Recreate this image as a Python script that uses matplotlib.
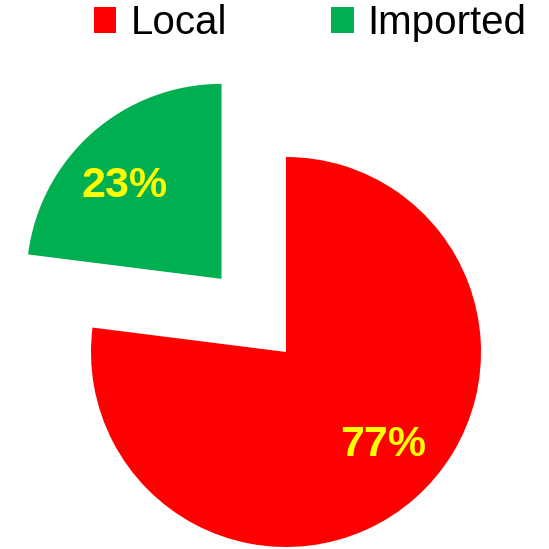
import matplotlib
matplotlib.use("Agg")
from matplotlib import pyplot as plt
import numpy as np

labels = ["Local", "Imported"]
shares = [77, 23]
colors = ["#FF0000", "#00B050"]
explode = [0.0, 0.5]

plt.rcParams["font.family"] = ["Liberation Sans", "DejaVu Sans"]

fig = plt.figure(figsize=(5.49, 5.49), dpi=100)
ax = fig.add_axes([0, 0, 1, 1])

# pie radius is 1, 195 px in the picture
r_px = 195.0
cx, cy = 286.0, 352.0
wedges, texts, autotexts = ax.pie(
    shares, colors=colors, explode=explode, startangle=90, counterclock=False,
    autopct="%d%%", pctdistance=0.7, radius=1,
    textprops=dict(color="#FFFF00", fontsize=31, fontweight="bold"),
    wedgeprops=dict(linewidth=0))

# labels sit a little off the bisector, like the original
for w, t in zip(wedges, autotexts):
    mid = np.deg2rad((w.theta1 + w.theta2) / 2 + 5)
    x0, y0 = w.center
    t.set_position((x0 + 0.69 * np.cos(mid), y0 + 0.69 * np.sin(mid)))

ax.set_aspect("equal")
ax.set_xlim(-cx / r_px, (549 - cx) / r_px)
ax.set_ylim(-(549 - cy) / r_px, cy / r_px)
ax.axis("off")

fig.legend(wedges, labels, loc="upper left", bbox_to_anchor=(94 / 549, 1 - 4 / 549),
           ncol=2, frameon=False, fontsize=29, handlelength=0.55, handleheight=0.6,
           handletextpad=0.35, columnspacing=2.6, borderpad=0, borderaxespad=0)

fig.savefig("out.png", dpi=100)
